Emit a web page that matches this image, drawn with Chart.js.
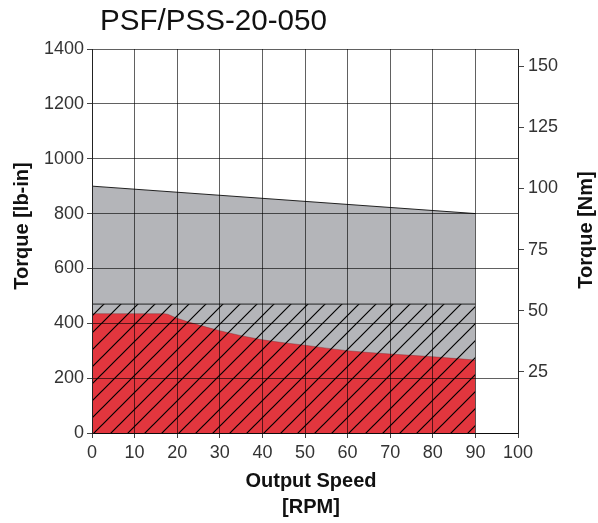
<!DOCTYPE html>
<html>
<head>
<meta charset="utf-8">
<script src="https://cdn.jsdelivr.net/npm/chart.js@4/dist/chart.umd.min.js"></script>
<style>
html,body{margin:0;padding:0;background:#fff;}
canvas{display:block;}
</style>
</head>
<body>
<canvas id="c" width="598" height="523"></canvas>
<script>
// ---- data ----
const chartTitle = "PSF/PSS-20-050";
const xTitleLines = ["Output Speed", "[RPM]"];
const yLeftTitle = "Torque [lb-in]";
const yRightTitle = "Torque [Nm]";

const peakSpeed = [0, 90];
const peakTorque = [900, 800];          // grey area top (lb-in)

const ratedSpeed = [0, 90];
const ratedTorque = [470, 470];         // hatched band top (lb-in)

const contSpeed = [0, 17, 20, 30, 40, 50, 60, 70, 80, 90];
const contTorque = [435, 435, 418, 373, 340, 320, 300, 288, 278, 266]; // red area top (lb-in)

const xTicks = [0, 10, 20, 30, 40, 50, 60, 70, 80, 90, 100];
const yLeftMax = 1400;
const yRightMax = 157;                  // Nm at top of axis
const yRightTicks = [25, 50, 75, 100, 125, 150];

const FONT = "'Liberation Sans', Arial, sans-serif";

const canvas = document.getElementById('c');
const ctx = canvas.getContext('2d');

function makeHatch() {
  const s = 17;
  const t = document.createElement('canvas');
  t.width = s; t.height = s;
  const g = t.getContext('2d');
  g.strokeStyle = '#000';
  g.lineWidth = 1.2;
  g.beginPath();
  g.moveTo(-2, s + 2); g.lineTo(s + 2, -2);
  g.moveTo(-2, 2); g.lineTo(2, -2);
  g.moveTo(s - 2, s + 2); g.lineTo(s + 2, s - 2);
  g.stroke();
  return ctx.createPattern(t, 'repeat');
}

const pts = (xs, ys) => xs.map((x, i) => ({x: x, y: ys[i]}));

const textPlugin = {
  id: 'texts',
  afterDraw(chart) {
    const c = chart.ctx;
    c.save();
    c.fillStyle = '#111';
    c.font = "29.6px " + FONT;
    c.textAlign = 'left';
    c.textBaseline = 'alphabetic';
    c.fillText(chartTitle, 100, 30);

    c.font = "bold 20px " + FONT;
    c.textAlign = 'center';
    c.textBaseline = 'middle';
    c.fillText(xTitleLines[0], 311, 481);
    c.fillText(xTitleLines[1], 311, 507);

    c.save();
    c.translate(22, 226);
    c.rotate(-Math.PI / 2);
    c.fillText(yLeftTitle, 0, 0);
    c.restore();

    c.save();
    c.translate(586, 230);
    c.rotate(-Math.PI / 2);
    c.fillText(yRightTitle, 0, 0);
    c.restore();
    c.restore();
  }
};

new Chart(ctx, {
  type: 'line',
  data: {
    datasets: [
      {
        label: 'rated',
        data: pts(ratedSpeed, ratedTorque),
        fill: 'origin',
        backgroundColor: makeHatch(),
        borderColor: '#222',
        borderWidth: 1,
        pointRadius: 0,
        order: 0
      },
      {
        label: 'continuous',
        data: pts(contSpeed, contTorque),
        fill: 'origin',
        backgroundColor: '#e2363e',
        borderColor: 'rgba(120,40,45,0.5)',
        borderWidth: 0.8,
        cubicInterpolationMode: 'monotone',
        pointRadius: 0,
        order: 1
      },
      {
        label: 'peak',
        data: pts(peakSpeed, peakTorque),
        fill: 'origin',
        backgroundColor: '#b4b5b9',
        borderColor: '#222',
        borderWidth: 1,
        pointRadius: 0,
        order: 2
      }
    ]
  },
  options: {
    responsive: false,
    animation: false,
    events: [],
    layout: { padding: { top: 49, left: 0, right: 0, bottom: 0 } },
    plugins: { legend: { display: false }, tooltip: { enabled: false }, title: { display: false } },
    scales: {
      x: {
        type: 'linear',
        min: 0, max: 100,
        afterBuildTicks: (s) => { s.ticks = xTicks.map(v => ({value: v})); },
        afterFit: (s) => { s.height = 90; },
        grid: { color: 'rgba(0,0,0,0.62)', lineWidth: 1, tickLength: 5, z: 1, tickColor: '#444' },
        border: { color: '#222', width: 1, z: 1 },
        ticks: { color: '#333', font: { family: FONT, size: 18 }, padding: 4, maxRotation: 0, autoSkip: false,
                 callback: (v) => String(v) }
      },
      y: {
        position: 'left',
        min: 0, max: yLeftMax,
        ticks: { stepSize: 200, color: '#333', font: { family: FONT, size: 18 }, padding: 3,
                 callback: (v) => String(v) },
        afterFit: (s) => { s.width = 92; },
        grid: { color: 'rgba(0,0,0,0.62)', lineWidth: 1, tickLength: 5, z: 1, tickColor: '#444' },
        border: { color: '#222', width: 1, z: 1 }
      },
      y2: {
        position: 'right',
        min: 0, max: yRightMax,
        afterBuildTicks: (s) => { s.ticks = yRightTicks.map(v => ({value: v})); },
        afterFit: (s) => { s.width = 80; },
        ticks: { color: '#333', font: { family: FONT, size: 18 }, padding: 4, callback: (v) => String(v) },
        grid: { drawOnChartArea: false, tickLength: 6, color: '#444', z: 1 },
        border: { color: '#222', width: 1, z: 1 }
      }
    }
  },
  plugins: [textPlugin]
});
</script>
</body>
</html>
